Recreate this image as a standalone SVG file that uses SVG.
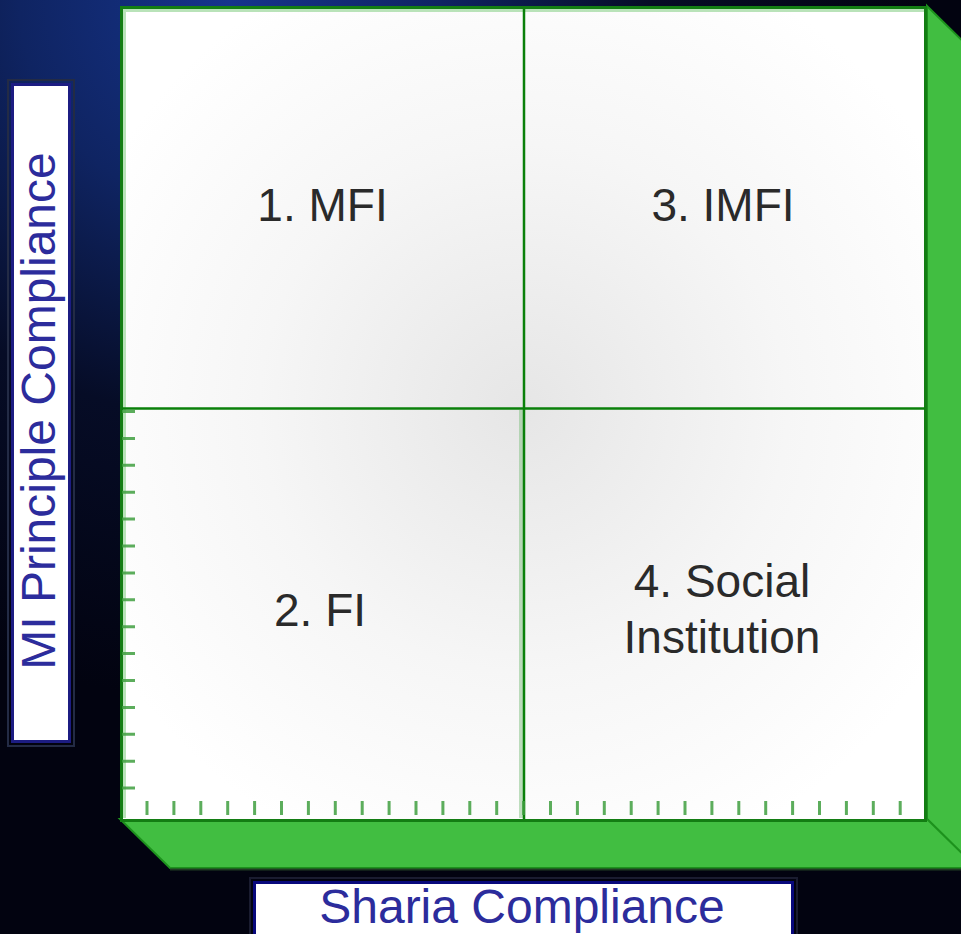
<svg xmlns="http://www.w3.org/2000/svg" width="961" height="934" viewBox="0 0 961 934">
  <defs>
    <radialGradient id="bg" gradientUnits="userSpaceOnUse" cx="230" cy="0" r="700">
      <stop offset="0" stop-color="#16348c"/>
      <stop offset="0.3" stop-color="#0f2462"/>
      <stop offset="0.6" stop-color="#060c26"/>
      <stop offset="1" stop-color="#020310"/>
    </radialGradient>
    <radialGradient id="face" gradientUnits="userSpaceOnUse" cx="523" cy="408" r="480">
      <stop offset="0" stop-color="#e6e6e6"/>
      <stop offset="0.55" stop-color="#f6f6f6"/>
      <stop offset="1" stop-color="#ffffff"/>
    </radialGradient>
    <style>
      .side { fill: #41be41; stroke: #1d921d; stroke-width: 2; }
      .quad { font-family: "Liberation Sans", Arial, sans-serif; font-size: 46px; fill: #2a2a2a; text-anchor: middle; }
      .axis { font-family: "Liberation Sans", Arial, sans-serif; font-size: 48px; fill: #2c2c9c; text-anchor: middle; }
      .tick { stroke: #3f9f3f; stroke-width: 3; stroke-opacity: 0.85; fill: none; }
      .div { stroke: #0a800a; stroke-width: 2.5; fill: none; }
    </style>
  </defs>
  <rect x="0" y="0" width="961" height="934" fill="url(#bg)"/>

  <g id="matrix">
    <polygon class="side" points="927,6 977,55 977,868 927,819"/>
    <polygon class="side" points="120,819 170,868 977,868 927,819"/>
    <line x1="170" y1="869.5" x2="961" y2="869.5" stroke="#1f3a22" stroke-width="2"/>
    <rect x="121.5" y="7.5" width="804" height="813" fill="url(#face)" stroke="#137d13" stroke-width="3"/>
    <path d="M124.5 10 V818 M123 10.5 H924" stroke="#a8dca8" stroke-width="3" fill="none" opacity="0.8"/>
    <rect x="519" y="410" width="4" height="408" fill="#7fc07f" opacity="0.5"/>
  </g>

  <g id="connectors">
    <path class="div" d="M524 9 V819"/>
    <path class="div" d="M122 408.5 H925"/>
    <path class="tick" d="M122 411.5 H135 M122 438.4 H135 M122 465.3 H135 M122 492.2 H135 M122 519.1 H135 M122 546 H135 M122 572.9 H135 M122 599.8 H135 M122 626.7 H135 M122 653.6 H135 M122 680.5 H135 M122 707.4 H135 M122 734.3 H135 M122 761.2 H135 M122 788.1 H135"/>
    <path class="tick" d="M147 801 V815 M173.9 801 V815 M200.8 801 V815 M227.7 801 V815 M254.6 801 V815 M281.5 801 V815 M308.4 801 V815 M335.3 801 V815 M362.2 801 V815 M389.1 801 V815 M416 801 V815 M442.9 801 V815 M469.8 801 V815 M496.7 801 V815 M523.6 801 V815 M550.5 801 V815 M577.4 801 V815 M604.3 801 V815 M631.2 801 V815 M658.1 801 V815 M685 801 V815 M711.9 801 V815 M738.8 801 V815 M765.7 801 V815 M792.6 801 V815 M819.5 801 V815 M846.4 801 V815 M873.3 801 V815 M900.2 801 V815"/>
  </g>

  <g id="q1"><text class="quad" x="322.5" y="221">1. MFI</text></g>
  <g id="q3"><text class="quad" x="723" y="221">3. IMFI</text></g>
  <g id="q2"><text class="quad" x="320" y="626">2. FI</text></g>
  <g id="q4">
    <text class="quad" x="722" y="597">4. Social</text>
    <text class="quad" x="722" y="653">Institution</text>
  </g>

  <g id="yaxis">
    <rect x="8" y="80" width="66" height="666" fill="none" stroke="#232b45" stroke-width="2"/>
    <rect x="12.5" y="84.5" width="57" height="657" fill="#ffffff" stroke="#1c1c82" stroke-width="3"/>
    <text class="axis" transform="translate(55,411) rotate(-90)" x="0" y="0">MI Principle Compliance</text>
  </g>

  <g id="xaxis">
    <rect x="250" y="878" width="547" height="70" fill="none" stroke="#1a1c30" stroke-width="2"/>
    <rect x="254.5" y="882.5" width="538" height="60" fill="#ffffff" stroke="#08087c" stroke-width="3"/>
    <text class="axis" x="522" y="923">Sharia Compliance</text>
  </g>
</svg>
